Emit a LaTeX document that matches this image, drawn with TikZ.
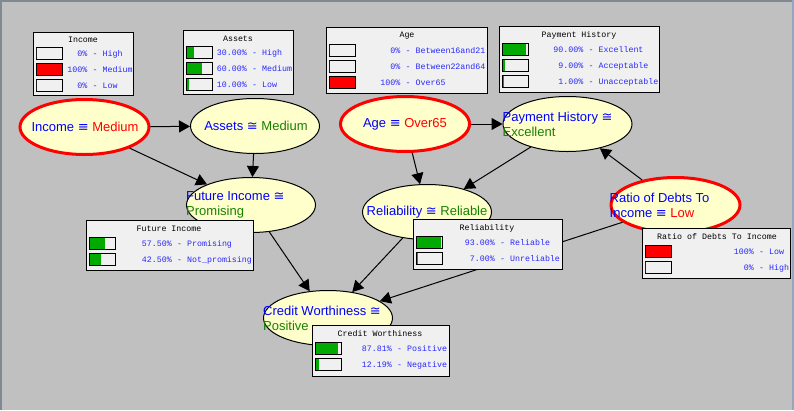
\documentclass[tikz,border=0pt]{standalone}
\usepackage{fontspec}
\setmainfont{Liberation Sans}
\newfontfamily\bnsym{DejaVu Sans}
\newfontfamily\bnmono{Liberation Mono}
\usetikzlibrary{shapes.geometric,arrows.meta}
\definecolor{bgray}{RGB}{192,192,192}
\definecolor{nodefill}{RGB}{255,255,204}
\definecolor{boxfill}{RGB}{240,240,240}
\definecolor{txtblue}{RGB}{0,0,255}
\definecolor{montblue}{RGB}{40,40,255}
\definecolor{txtgreen}{RGB}{24,128,0}
\definecolor{barred}{RGB}{255,0,0}
\definecolor{bargreen}{RGB}{0,170,0}
\definecolor{frametop}{RGB}{128,136,146}
\definecolor{frameright}{RGB}{150,165,190}
\tikzset{
 bnnode/.style={ellipse, draw=black, line width=1pt, fill=nodefill, minimum width=129pt, minimum height=55pt, inner sep=0pt},
 bnev/.style={bnnode, draw=red, line width=3pt},
 etext/.style={font=\fontsize{13}{15}\selectfont, text=txtblue, inner sep=0pt, align=left},
 edge/.style={line width=1pt, -{Triangle[length=11pt,width=12pt]}},
 monbox/.style={fill=boxfill, draw=black, line width=1pt},
 montitle/.style={font=\fontsize{8.3}{10}\selectfont\bnmono, text=black, inner sep=0pt},
 montxt/.style={font=\fontsize{8.3}{10}\selectfont\bnmono, text=montblue, inner sep=0pt},
}
\newcommand{\bnrow}[8]{%
 \filldraw[fill=boxfill, draw=black, line width=1pt] (#2,#3-6) rectangle (#2+26,#3+6);
 \fill[#5] (#2+0.5,#3-5.5) rectangle (#2+0.5+#4,#3+5.5);
 \node[montxt, anchor=base east] (#1n) at (#6,#3+3) {#7\%};
 \node[montxt, anchor=base west] (#1s) at (#6,#3+3) {\ -\ #8};
}
\begin{document}
\begin{tikzpicture}[x=1pt,y=-1pt]
\fill[bgray] (0,0) rectangle (794,410);
\useasboundingbox (0,0) rectangle (794,410);
\draw[frametop, line width=1.5pt] (0,0.75) -- (794,0.75);
\draw[frametop, line width=1.5pt] (0.75,0) -- (0.75,410);
\draw[frameright, line width=2pt] (793,0) -- (793,410);

% ellipses
\node[bnev]   (inc) at (84.5,127) {};
\node[bnnode] (ast) at (255,126) {};
\node[bnev]   (age) at (405,124) {};
\node[bnnode] (ph)  at (567.5,124) {};
\node[bnnode] (fi)  at (251,205) {};
\node[bnnode] (rel) at (427,212) {};
\node[bnev]   (rat) at (675.5,205) {};
\node[bnnode] (cw)  at (328,318) {};

% edges
\draw[edge] (inc) -- (ast);
\draw[edge] (inc) -- (fi);
\draw[edge] (ast) -- (fi);
\draw[edge] (age) -- (ph);
\draw[edge] (age) -- (rel);
\draw[edge] (ph) -- (rel);
\draw[edge] (rat) -- (ph);
\draw[edge] (fi) -- (cw);
\draw[edge] (rel) -- (cw);
\draw[edge] (rat) -- (cw);

% ellipse texts
\node[etext] (incL) at (85,127) {Income {\bnsym ≡} \textcolor{red}{Medium}};
\node[etext] (astL) at (256,126) {Assets {\bnsym ≅} \textcolor{txtgreen}{Medium}};
\node[etext] (ageL) at (405,124) {Age {\bnsym ≡} \textcolor{red}{Over65}};
\node[etext, anchor=west] (phL) at (ph.west) {Payment History {\bnsym ≅}\\\textcolor{txtgreen}{Excellent}};
\node[etext, anchor=west] (fiL) at (fi.west) {Future Income {\bnsym ≅}\\\textcolor{txtgreen}{Promising}};
\node[etext] (relL) at (427,212) {Reliability {\bnsym ≅} \textcolor{txtgreen}{Reliable}};
\node[etext, anchor=west] (ratL) at (rat.west) {Ratio of Debts To\\Income {\bnsym ≡} \textcolor{red}{Low}};
\node[etext, anchor=west] (cwL) at (cw.west) {Credit Worthiness {\bnsym ≅}\\\textcolor{txtgreen}{Positive}};

% monitor: Income
\filldraw[monbox] (33,32) rectangle (133,95);
\node[montitle] (incT) at (83,40) {Income};
\bnrow{incA}{36}{53}{0}{boxfill}{87.5}{0}{High}
\bnrow{incB}{36}{69}{25}{barred}{87.5}{100}{Medium}
\bnrow{incC}{36}{85}{0}{boxfill}{87.5}{0}{Low}

% monitor: Assets
\filldraw[monbox] (183,30) rectangle (293,94);
\node[montitle] (astT) at (238,38.5) {Assets};
\bnrow{astA}{186}{52}{7.8}{bargreen}{247}{30.00}{High}
\bnrow{astB}{186}{68}{15.6}{bargreen}{247}{60.00}{Medium}
\bnrow{astC}{186}{84}{2.6}{bargreen}{247}{10.00}{Low}

% monitor: Age
\filldraw[monbox] (326,27) rectangle (487,93);
\node[montitle] (ageT) at (407,36) {Age};
\bnrow{ageA}{329}{50}{0}{boxfill}{400.5}{0}{Between16and21}
\bnrow{ageB}{329}{66}{0}{boxfill}{400.5}{0}{Between22and64}
\bnrow{ageC}{329}{82}{25}{barred}{400.5}{100}{Over65}

% monitor: Payment History
\filldraw[monbox] (499,26) rectangle (659,92);
\node[montitle] (phT) at (579,35) {Payment History};
\bnrow{phA}{502}{49}{23.4}{bargreen}{583.5}{90.00}{Excellent}
\bnrow{phB}{502}{65}{2.3}{bargreen}{583.5}{9.00}{Acceptable}
\bnrow{phC}{502}{81}{0.3}{bargreen}{583.5}{1.00}{Unacceptable}

% monitor: Future Income
\filldraw[monbox] (86,220) rectangle (253,270);
\node[montitle] (fiT) at (169,229) {Future Income};
\bnrow{fiA}{89}{243}{15}{bargreen}{172}{57.50}{Promising}
\bnrow{fiB}{89}{259}{11}{bargreen}{172}{42.50}{Not\_promising}

% monitor: Reliability
\filldraw[monbox] (413,219) rectangle (562,269);
\node[montitle] (relT) at (487,228) {Reliability};
\bnrow{relA}{416}{242}{24.2}{bargreen}{495}{93.00}{Reliable}
\bnrow{relB}{416}{258}{1.8}{bargreen}{495}{7.00}{Unreliable}

% monitor: Ratio of Debts To Income
\filldraw[monbox] (642,228) rectangle (790,278);
\node[montitle] (ratT) at (717,237) {Ratio of Debts To Income};
\bnrow{ratA}{645}{251}{25}{barred}{754}{100}{Low}
\bnrow{ratB}{645}{267}{0}{boxfill}{754}{0}{High}

% monitor: Credit Worthiness
\filldraw[monbox] (312,325) rectangle (449,376);
\node[montitle] (cwT) at (380,334) {Credit Worthiness};
\bnrow{cwA}{315}{348}{22.8}{bargreen}{392}{87.81}{Positive}
\bnrow{cwB}{315}{364}{3.2}{bargreen}{392}{12.19}{Negative}
\end{tikzpicture}
\end{document}
